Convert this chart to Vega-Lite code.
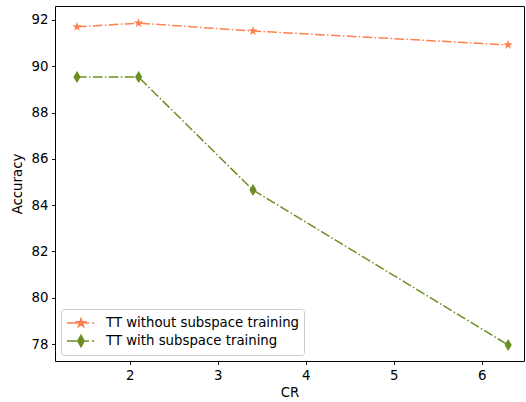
{
  "$schema": "https://vega.github.io/schema/vega-lite/v6.json",
  "width": 469,
  "height": 355,
  "autosize": {"type": "none"},
  "padding": {"left": 55, "top": 6, "right": 2, "bottom": 41},
  "background": "white",
  "config": {
    "font": "DejaVu Sans",
    "view": {"stroke": "black", "strokeWidth": 1},
    "axis": {
      "grid": false,
      "domain": false,
      "tickColor": "black",
      "tickSize": 3.5,
      "tickWidth": 0.9,
      "labelFont": "DejaVu Sans",
      "labelFontSize": 13.3,
      "labelColor": "black",
      "labelPadding": 3.5,
      "titleFont": "DejaVu Sans",
      "titleFontSize": 13.3,
      "titleFontWeight": "normal",
      "titleColor": "black"
    }
  },
  "data": {
    "values": [
      {"CR": 1.4, "Accuracy": 91.7, "Method": "TT without subspace training"},
      {"CR": 2.1, "Accuracy": 91.86, "Method": "TT without subspace training"},
      {"CR": 3.4, "Accuracy": 91.52, "Method": "TT without subspace training"},
      {"CR": 6.3, "Accuracy": 90.92, "Method": "TT without subspace training"},
      {"CR": 1.4, "Accuracy": 89.53, "Method": "TT with subspace training"},
      {"CR": 2.1, "Accuracy": 89.53, "Method": "TT with subspace training"},
      {"CR": 3.4, "Accuracy": 84.65, "Method": "TT with subspace training"},
      {"CR": 6.3, "Accuracy": 77.96, "Method": "TT with subspace training"}
    ]
  },
  "encoding": {
    "x": {
      "field": "CR",
      "type": "quantitative",
      "scale": {"domain": [1.15, 6.48], "nice": false, "zero": false},
      "axis": {"values": [2, 3, 4, 5, 6], "title": "CR", "titlePadding": 4}
    },
    "y": {
      "field": "Accuracy",
      "type": "quantitative",
      "scale": {"domain": [77.27, 92.6], "nice": false, "zero": false},
      "axis": {"values": [78, 80, 82, 84, 86, 88, 90, 92], "title": "Accuracy", "titlePadding": 7}
    },
    "color": {
      "field": "Method",
      "type": "nominal",
      "scale": {
        "domain": ["TT without subspace training", "TT with subspace training"],
        "range": ["#ff7f50", "#6b8e23"]
      },
      "legend": {
        "title": null,
        "orient": "bottom-left",
        "offset": 6,
        "padding": 5,
        "strokeColor": "#cccccc",
        "fillColor": "white",
        "cornerRadius": 3,
        "labelFont": "DejaVu Sans",
        "labelFontSize": 13.3,
        "labelColor": "black",
        "labelLimit": 400,
        "labelOffset": 22,
        "symbolSize": 256,
        "symbolStrokeWidth": 1.5,
        "rowPadding": 2,
        "encode": {
          "symbols": {
            "update": {
              "shape": {"signal": "datum.value === 'TT without subspace training' ? 'M-1,0H0.25M1.25,0H1.75M2.13,0H2.38M0.75,-0.55L0.873,-0.17L1.273,-0.17L0.95,0.065L1.073,0.445L0.75,0.21L0.427,0.445L0.55,0.065L0.227,-0.17L0.627,-0.17Z' : 'M-1,0H0.25M1.25,0H1.75M2.13,0H2.38M0.75,-0.72L1.15,0L0.75,0.72L0.35,0Z'"},
              "fill": {"signal": "datum.value === 'TT without subspace training' ? '#ff7f50' : '#6b8e23'"},
              "stroke": {"signal": "datum.value === 'TT without subspace training' ? '#ff7f50' : '#6b8e23'"},
              "strokeDash": {"value": []},
              "opacity": {"value": 1},
              "fillOpacity": {"value": 1},
              "strokeOpacity": {"value": 1}
            }
          }
        }
      }
    }
  },
  "layer": [
    {
      "mark": {"type": "line", "strokeWidth": 1.5, "strokeDash": [9.6, 2.4, 1.5, 2.4]}
    },
    {
      "transform": [{"filter": "datum.Method === 'TT without subspace training'"}],
      "mark": {
        "type": "point", "filled": true, "opacity": 1, "size": 144,
        "shape": "M0,-0.83L0.186,-0.256L0.789,-0.256L0.302,0.098L0.488,0.671L0,0.317L-0.488,0.671L-0.302,0.098L-0.789,-0.256L-0.186,-0.256Z"
      }
    },
    {
      "transform": [{"filter": "datum.Method === 'TT with subspace training'"}],
      "mark": {
        "type": "point", "filled": true, "opacity": 1, "size": 144,
        "shape": "M0,-1L0.6,0L0,1L-0.6,0Z"
      }
    }
  ]
}
